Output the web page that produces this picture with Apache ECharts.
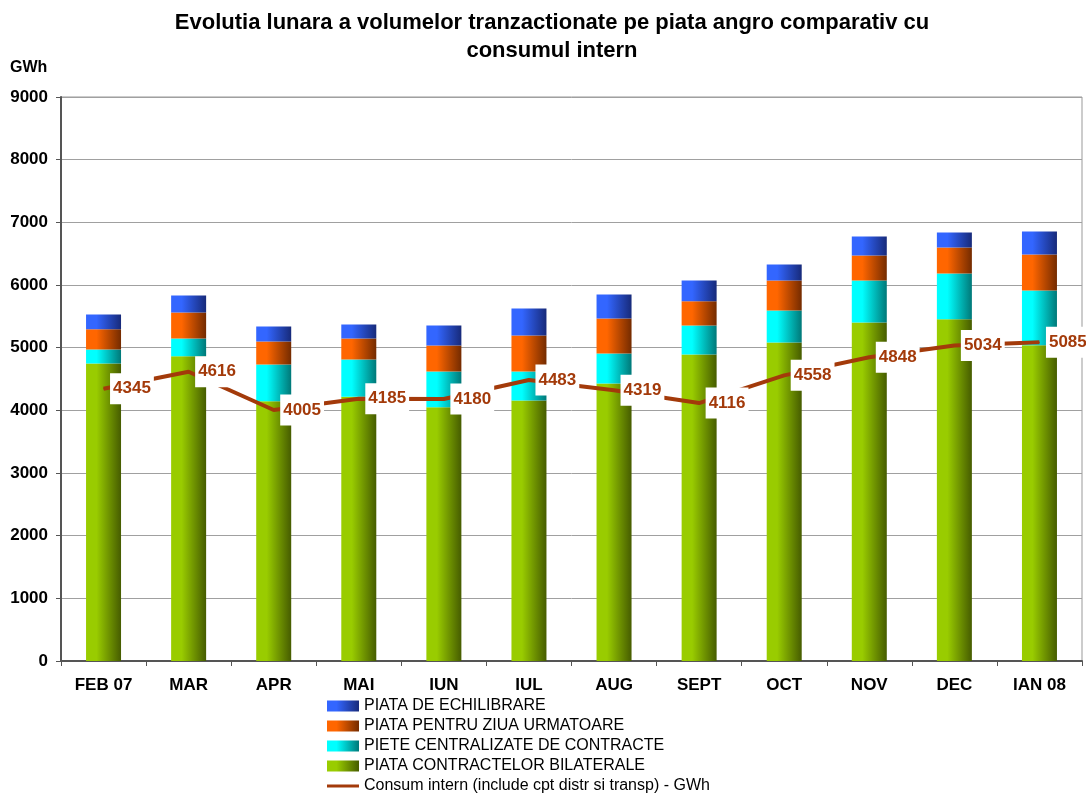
<!DOCTYPE html>
<html>
<head>
<meta charset="utf-8">
<script src="https://cdn.jsdelivr.net/npm/echarts@6/dist/echarts.min.js"></script>
<style>
  html, body { margin: 0; padding: 0; background: #fff; }
  #chart { width: 1086px; height: 794px; }
</style>
</head>
<body>
<div id="chart"></div>
<script>
// date (GWh)
const luni = ['FEB 07', 'MAR', 'APR', 'MAI', 'IUN', 'IUL', 'AUG', 'SEPT', 'OCT', 'NOV', 'DEC', 'IAN 08']
const bilaterale = [4747, 4864, 4145, 4215, 4049, 4156, 4428, 4891, 5082, 5402, 5455, 5040]
const centralizate = [224, 282, 586, 596, 570, 463, 479, 463, 511, 670, 729, 873]
const ziuaUrmatoare = [324, 415, 367, 335, 415, 575, 558, 388, 479, 400, 416, 575]
const echilibrare = [234, 272, 240, 224, 320, 431, 384, 330, 256, 303, 239, 367]
const consum = [4345, 4616, 4005, 4185, 4180, 4483, 4319, 4116, 4558, 4848, 5034, 5085]
const yTicks = [0, 1000, 2000, 3000, 4000, 5000, 6000, 7000, 8000, 9000]

const font = '"Liberation Sans", Arial, sans-serif'
const maro = '#a33a0a'

// gradient orizontal ca in Excel
function grad (light, dark) {
  return new echarts.graphic.LinearGradient(0, 0, 1, 0, [
    { offset: 0, color: light },
    { offset: 0.3, color: light },
    { offset: 1, color: dark }
  ])
}

function barSerie (name, data, light, dark) {
  return {
    name: name,
    type: 'bar',
    stack: 'total',
    barWidth: 35,
    data: data,
    itemStyle: { color: grad(light, dark) }
  }
}

const chart = echarts.init(document.getElementById('chart'))
chart.setOption({
  animation: false,
  textStyle: { fontFamily: font },
  title: {
    text: 'Evolutia lunara a volumelor tranzactionate pe piata angro comparativ cu\nconsumul intern',
    left: 547,
    textAlign: 'center',
    top: 4,
    textStyle: { fontSize: 22, fontWeight: 'bold', color: '#000', lineHeight: 28, fontFamily: font }
  },
  graphic: [{
    type: 'text',
    left: 10,
    top: 60,
    style: { text: 'GWh', font: 'bold 16px ' + font, fill: '#000' }
  }],
  grid: {
    left: 61,
    right: 4,
    top: 97,
    bottom: 133,
    show: true,
    borderColor: '#999',
    borderWidth: 1
  },
  legend: {
    orient: 'vertical',
    left: 327,
    top: 698,
    height: 100,
    padding: 0,
    itemWidth: 32,
    itemHeight: 11,
    itemGap: 4,
    textStyle: { fontSize: 16, color: '#000', lineHeight: 16, fontFamily: font },
    data: [
      { name: 'PIATA DE ECHILIBRARE', icon: 'rect' },
      { name: 'PIATA PENTRU ZIUA URMATOARE', icon: 'rect' },
      { name: 'PIETE CENTRALIZATE DE CONTRACTE', icon: 'rect' },
      { name: 'PIATA CONTRACTELOR BILATERALE', icon: 'rect' },
      { name: 'Consum intern (include cpt distr si transp) - GWh', icon: 'path://M0,0 L32,0 L32,0.1 L0,0.1 Z M0,4 L32,4 L32,7 L0,7 Z M0,10.9 L32,10.9 L32,11 L0,11 Z' }
    ]
  },
  xAxis: {
    type: 'category',
    data: luni,
    axisLine: { lineStyle: { color: '#555', width: 2 } },
    axisTick: { show: true, length: 5, lineStyle: { color: '#555' } },
    axisLabel: { fontSize: 17, fontWeight: 'bold', color: '#000', margin: 16 }
  },
  yAxis: {
    type: 'value',
    min: yTicks[0],
    max: yTicks[yTicks.length - 1],
    interval: 1000,
    axisLine: { show: true, lineStyle: { color: '#555', width: 2 } },
    axisTick: { show: true, length: 5, lineStyle: { color: '#555' } },
    axisLabel: { fontSize: 17, fontWeight: 'bold', color: '#000', margin: 13, formatter: v => String(v) },
    splitLine: { lineStyle: { color: '#a0a0a0', width: 1 } }
  },
  series: [
    barSerie('PIATA CONTRACTELOR BILATERALE', bilaterale, '#99cc00', '#465c00'),
    barSerie('PIETE CENTRALIZATE DE CONTRACTE', centralizate, '#00ffff', '#007878'),
    barSerie('PIATA PENTRU ZIUA URMATOARE', ziuaUrmatoare, '#ff6600', '#742b00'),
    barSerie('PIATA DE ECHILIBRARE', echilibrare, '#3366ff', '#172a7a'),
    {
      name: 'Consum intern (include cpt distr si transp) - GWh',
      type: 'line',
      data: consum,
      symbol: 'circle',
      symbolSize: 1,
      showSymbol: true,
      z: 5,
      lineStyle: { color: maro, width: 4 },
      itemStyle: { color: maro },
      labelLayout: { hideOverlap: false },
      label: {
        show: true,
        position: 'right',
        distance: 6,
        backgroundColor: '#fff',
        padding: [7, 3],
        color: maro,
        fontSize: 17,
        fontWeight: 'bold',
        fontFamily: font
      }
    }
  ]
})
</script>
</body>
</html>
